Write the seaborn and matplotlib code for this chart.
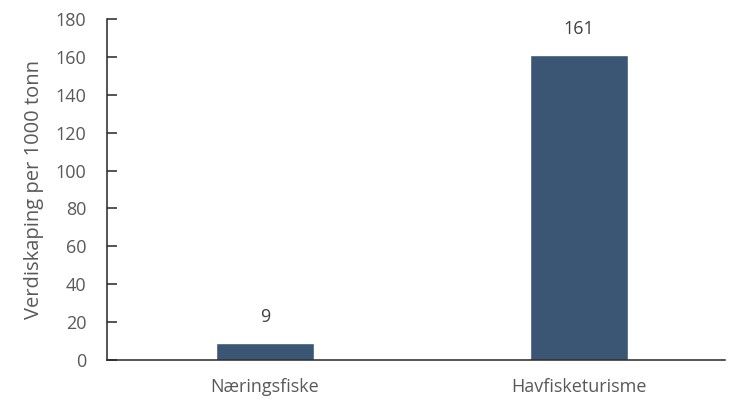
import matplotlib
matplotlib.use("Agg")
import matplotlib.pyplot as plt
import seaborn as sns
import pandas as pd

categories = ["Næringsfiske", "Havfisketurisme"]
values = [9, 161]
yticks = [0, 20, 40, 60, 80, 100, 120, 140, 160, 180]

sns.set_style("white")
plt.rcParams['font.family'] = ['Open Sans', 'DejaVu Sans']

df = pd.DataFrame({"kategori": categories, "verdi": values})

fig = plt.figure(figsize=(7.29, 4.01), dpi=100)
ax = fig.add_axes([107/729, 1-360/401, (725-107)/729, (360-19)/401])
sns.barplot(data=df, x="kategori", y="verdi", color="#3A5674", width=0.31,
            saturation=1, ax=ax)
px = 314.0
ax.set_xlim(-(265-107)/px, 1 + (725-579)/px)
ax.set_ylim(0, 180)
ax.set_yticks(yticks)
ax.set_yticklabels([str(t) for t in yticks])
for s in ["top", "right"]:
    ax.spines[s].set_visible(False)
for s in ["left", "bottom"]:
    ax.spines[s].set_color("#262626")
    ax.spines[s].set_linewidth(1.1)
ax.tick_params(axis="y", left=True, direction="in", length=7, width=1.1, color="#262626",
               labelsize=13, labelcolor="#595959", pad=15)
ax.tick_params(axis="x", bottom=False, length=0, labelsize=13, labelcolor="#595959", pad=13)
ax.set_xlabel("")
ax.set_ylabel("Verdiskaping per 1000 tonn", fontsize=14.5, color="#595959", labelpad=8)
for c in ax.containers:
    ax.bar_label(c, labels=[str(v) for v in values], padding=12, fontsize=13, color="#404040")
fig.savefig("out.png", dpi=100)
